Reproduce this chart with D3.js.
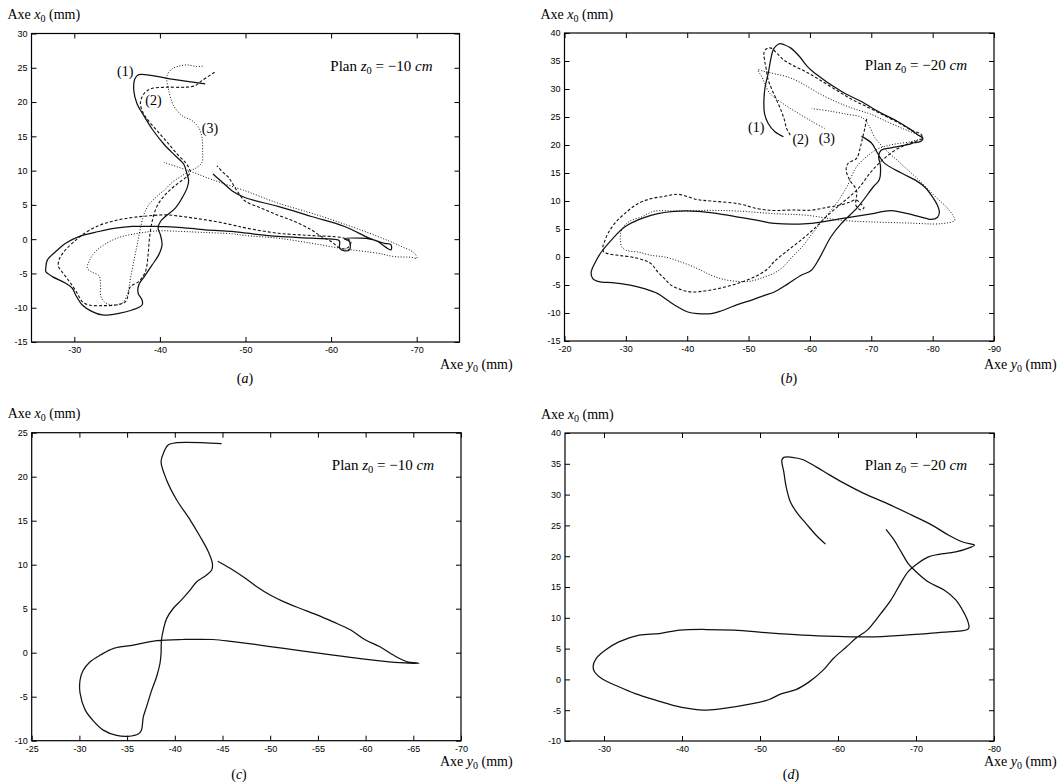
<!DOCTYPE html>
<html><head><meta charset="utf-8">
<script src="https://cdn.jsdelivr.net/npm/d3@7"></script>
<style>
body{margin:0;background:#fff;}
svg{display:block;}
.tick text{font-family:"Liberation Sans",Arial,sans-serif;font-size:9px;fill:#000;}
.serif{font-family:"Liberation Serif","Times New Roman",serif;fill:#000;}
</style></head><body>
<svg id="chart" width="1063" height="782"></svg>
<script>
// ---------- tick values ----------
const ticksAx = [-30,-40,-50,-60,-70];
const ticksAy = [-15,-10,-5,0,5,10,15,20,25,30];
const ticksBx = [-20,-30,-40,-50,-60,-70,-80,-90];
const ticksBy = [-15,-10,-5,0,5,10,15,20,25,30,35,40];
const ticksCx = [-25,-30,-35,-40,-45,-50,-55,-60,-65,-70];
const ticksCy = [-10,-5,0,5,10,15,20,25];
const ticksDx = [-30,-40,-50,-60,-70,-80];
const ticksDy = [-10,-5,0,5,10,15,20,25,30,35,40];

// ---------- data: [y0 (mm), x0 (mm)] ----------
// Panel (a), plane z0 = -10 cm
const a1 = [[-45.3,22.65],[-41.4,23.35],[-37.53,24.0],[-37.07,23.38],[-36.95,21.67],[-37.34,19.72],[-38.12,18.02],[-39.09,16.07],[-40.45,13.88],[-41.8,12.17],[-42.78,10.96],[-43.17,9.49],[-43.36,8.52],[-43.17,7.45],[-42.58,5.99],[-41.8,4.53],[-40.64,3.31],[-40.06,2.58],[-39.79,1.6],[-40.06,0.63],[-40.25,-0.83],[-39.86,-2.29],[-39.09,-3.76],[-38.31,-5.22],[-37.53,-6.68],[-37.46,-7.9],[-37.92,-8.87],[-37.92,-9.6],[-36.76,-10.33],[-35.2,-10.82],[-33.26,-11.06],[-32.1,-10.57],[-30.93,-9.6],[-30.16,-8.14],[-29.77,-7.17],[-28.99,-6.43],[-27.44,-5.46],[-26.67,-4.73],[-26.67,-4.24],[-26.86,-3.02],[-27.83,-1.81],[-28.99,-0.59],[-30.54,0.38],[-32.87,1.12],[-34.82,1.6],[-36.76,1.85],[-39.86,1.85],[-42.58,1.7],[-45.3,1.36],[-48.4,1.12],[-50.16,0.87],[-53.8,0.39],[-57.69,0.14],[-60.8,-0.1],[-61.0,-0.35],[-61.0,-1.32],[-61.57,-1.7],[-62.15,-1.56],[-62.15,-0.35],[-61.57,0.04],[-63.5,0.14],[-64.68,-0.02],[-66.23,-0.6],[-67.0,-0.83],[-67.0,-1.56],[-66.4,-1.2],[-65.46,-0.35],[-64.3,0.24],[-61.57,1.85],[-57.69,3.31],[-53.8,4.77],[-49.92,6.08],[-48.5,7.0],[-47.3,8.3],[-46.2,9.5]];
const a2 = [[-46.39,24.35],[-44.91,23.13],[-44.14,22.4],[-42.97,22.16],[-40.64,22.16],[-38.89,21.91],[-38.12,21.18],[-37.73,19.97],[-37.92,18.75],[-38.5,17.53],[-39.67,15.83],[-41.03,13.88],[-42.19,12.17],[-42.97,11.2],[-43.36,10.47],[-43.55,9.74],[-43.13,9.1],[-42.35,8.37],[-41.38,7.4],[-40.41,6.18],[-39.63,4.72],[-39.09,2.58],[-38.78,0.14],[-38.62,-2.29],[-38.31,-4.73],[-37.53,-6.19],[-36.56,-6.92],[-36.29,-8.14],[-35.98,-9.11],[-34.82,-9.6],[-33.26,-9.7],[-31.71,-9.6],[-30.93,-9.11],[-30.35,-7.9],[-29.57,-6.43],[-28.99,-5.46],[-28.4,-4.49],[-28.14,-4.0],[-28.21,-3.03],[-28.8,-1.81],[-29.77,-0.59],[-30.93,0.63],[-32.87,2.0],[-34.82,2.72],[-36.76,3.16],[-38.7,3.4],[-40.64,3.55],[-42.58,3.31],[-44.52,2.97],[-46.47,2.58],[-48.41,2.09],[-50.16,1.6],[-53.8,0.87],[-57.69,0.53],[-61.18,0.24],[-62.3,-0.3],[-62.0,-1.2],[-61.2,-1.4],[-60.02,-0.35],[-58.85,0.38],[-57.69,1.36],[-55.75,2.58],[-53.8,3.5],[-51.86,4.53],[-49.92,5.6],[-48.95,7.16],[-48.02,9.0],[-47.3,9.83],[-46.66,10.71]];
const a3 = [[-44.99,25.23],[-44.29,25.18],[-43.17,25.42],[-42.19,25.23],[-41.42,24.84],[-40.83,23.86],[-41.03,21.67],[-41.61,19.48],[-42.58,18.02],[-43.75,17.29],[-44.52,16.31],[-44.91,14.85],[-44.99,12.9],[-44.91,11.2],[-44.33,10.47],[-43.55,9.98],[-42.58,9.25],[-41.42,8.28],[-40.64,7.3],[-39.86,6.47],[-38.7,5.01],[-38.12,3.55],[-37.73,1.6],[-37.34,-0.83],[-36.95,-3.27],[-36.56,-5.7],[-36.37,-7.17],[-36.17,-8.14],[-35.59,-9.36],[-34.43,-9.6],[-33.46,-9.11],[-33.07,-8.14],[-33.07,-6.68],[-32.87,-5.31],[-32.1,-4.83],[-31.51,-4.24],[-31.71,-3.27],[-32.29,-2.05],[-33.46,-0.83],[-35.2,0.24],[-37.53,0.87],[-39.86,1.21],[-42.58,1.12],[-45.3,0.97],[-48.41,0.78],[-49.92,0.53],[-53.8,0.14],[-57.69,-0.59],[-61.57,-1.42],[-65.46,-2.05],[-67.4,-2.54],[-69.34,-2.64],[-70.04,-2.78],[-69.73,-2.05],[-67.79,-0.83],[-65.46,0.39],[-61.57,2.19],[-57.69,3.8],[-53.8,5.26],[-49.96,7.06],[-46.47,8.52],[-43.36,9.98],[-40.45,11.2]];

// Panel (b), plane z0 = -20 cm
const b1 = [[-55.69,21.47],[-54.3,22.36],[-53.2,23.85],[-52.6,25.6],[-52.5,28.0],[-52.7,30.4],[-53.2,32.8],[-53.6,35.2],[-54.0,36.96],[-54.5,37.7],[-55.1,38.1],[-55.8,37.9],[-56.9,37.3],[-58.3,35.8],[-59.6,34.0],[-60.7,32.9],[-65.1,29.6],[-68.3,27.8],[-71.6,25.7],[-74.3,24.2],[-76.5,22.7],[-77.6,21.8],[-78.4,21.25],[-78.1,20.65],[-77.0,20.4],[-75.9,20.05],[-73.2,19.5],[-71.6,19.05],[-71.2,18.0],[-71.5,16.2],[-71.3,13.8],[-70.3,12.5],[-67.8,8.9],[-65.1,5.95],[-63.4,3.57],[-61.5,-0.3],[-60.2,-2.4],[-58.5,-3.3],[-56.4,-4.8],[-54.2,-6.25],[-52.6,-6.85],[-50.4,-7.74],[-48.3,-8.45],[-45.5,-9.64],[-43.9,-10.1],[-41.7,-10.1],[-40.1,-9.82],[-38.5,-8.93],[-36.8,-7.74],[-35.2,-6.55],[-33.0,-5.65],[-30.9,-5.06],[-28.15,-4.64],[-25.4,-4.35],[-24.6,-3.87],[-24.35,-2.68],[-24.9,-1.19],[-26.0,0.89],[-27.6,2.98],[-29.8,5.36],[-32.5,6.85],[-35.2,7.74],[-37.9,8.15],[-41.7,8.15],[-45.0,7.74],[-48.3,7.14],[-51.5,6.55],[-54.2,6.0],[-59.6,5.95],[-65.1,6.84],[-70.0,7.7],[-73.2,8.3],[-77.0,7.45],[-79.1,6.84],[-79.75,6.7],[-80.8,7.1],[-81.1,8.0],[-80.8,9.2],[-80.0,10.7],[-78.7,12.5],[-77.5,13.5],[-74.9,15.0],[-72.1,16.8],[-71.0,18.6],[-70.0,20.4],[-68.4,21.55]];
const b2 = [[-56.8,21.76],[-56.2,22.96],[-55.85,24.45],[-55.4,25.9],[-54.7,27.7],[-53.85,29.8],[-53.2,31.6],[-52.9,33.4],[-52.6,35.2],[-52.5,36.4],[-52.7,36.96],[-53.15,37.3],[-53.7,37.3],[-54.6,36.4],[-55.7,35.2],[-57.1,34.3],[-59.3,33.1],[-61.5,31.7],[-64.3,29.8],[-67.1,28.0],[-69.9,26.5],[-72.6,25.0],[-74.9,23.7],[-76.5,22.65],[-78.1,21.94],[-78.3,21.2],[-77.0,20.6],[-75.5,20.0],[-73.5,18.8],[-71.5,17.0],[-69.8,15.0],[-68.1,12.5],[-66.7,11.0],[-65.1,9.52],[-62.9,7.44],[-60.7,5.06],[-58.5,2.98],[-56.4,1.19],[-54.2,-0.8],[-53.15,-2.08],[-51.5,-3.27],[-49.35,-4.29],[-47.2,-5.06],[-45.0,-5.65],[-42.8,-6.07],[-40.65,-6.25],[-39.0,-5.83],[-37.4,-5.06],[-36.3,-3.87],[-35.2,-2.68],[-34.1,-1.19],[-33.0,-0.6],[-30.9,0.0],[-28.7,0.3],[-27.07,0.6],[-26.4,0.89],[-26.25,1.79],[-26.5,2.68],[-27.07,4.17],[-28.15,5.95],[-29.8,7.74],[-31.96,9.52],[-34.1,10.42],[-36.3,10.83],[-38.5,11.2],[-41.7,10.24],[-43.9,10.0],[-48.3,9.52],[-51.5,8.63],[-54.2,8.3],[-57.0,8.4],[-60.0,8.35],[-63.0,8.9],[-65.0,9.3],[-66.5,9.8],[-67.5,10.2],[-68.3,9.5],[-68.8,8.8],[-68.3,8.4],[-67.5,9.2],[-67.6,11.9],[-66.5,13.7],[-65.9,15.5],[-66.2,16.7],[-67.6,17.6],[-68.1,19.1],[-68.5,20.9],[-69.0,23.25],[-69.3,24.9]];
const b3 = [[-62.4,22.96],[-60.4,24.15],[-58.2,25.6],[-56.0,27.1],[-54.2,28.5],[-53.4,29.3],[-52.6,31.1],[-52.1,32.3],[-51.5,33.4],[-52.35,33.2],[-54.3,32.7],[-56.5,32.1],[-58.7,31.0],[-61.5,29.2],[-64.3,27.7],[-67.1,26.5],[-69.9,25.5],[-72.6,24.15],[-75.4,22.8],[-77.6,21.8],[-78.2,21.3],[-76.5,20.6],[-74.0,20.2],[-71.5,19.5],[-69.9,18.5],[-67.6,16.1],[-66.0,12.5],[-64.3,9.55],[-62.1,6.6],[-60.4,4.2],[-58.7,1.8],[-57.1,0.0],[-55.5,-1.9],[-54.2,-2.86],[-52.6,-3.57],[-50.4,-4.29],[-48.3,-4.35],[-46.1,-4.05],[-43.9,-3.27],[-41.7,-2.08],[-39.0,-0.89],[-36.3,0.0],[-34.1,0.3],[-31.96,0.89],[-30.05,1.19],[-29.35,1.79],[-29.1,2.98],[-29.2,4.46],[-29.8,5.65],[-30.9,6.55],[-32.5,7.14],[-33.6,7.74],[-34.7,8.2],[-38.5,8.2],[-43.9,8.33],[-48.3,8.2],[-54.2,7.74],[-59.6,7.44],[-65.1,6.55],[-70.5,6.25],[-76.0,6.07],[-81.4,5.95],[-83.6,6.55],[-83.3,7.44],[-82.0,9.2],[-80.8,10.4],[-79.7,11.6],[-78.9,12.5],[-77.5,14.0],[-76.0,15.5],[-74.0,17.5],[-72.0,19.5],[-70.5,21.5],[-69.6,23.5],[-68.5,24.9],[-66.0,25.5],[-63.0,26.1],[-60.3,26.5]];

// Panel (c), plane z0 = -10 cm
const c1 = [[-44.9,23.75],[-40.2,23.86],[-39.3,23.6],[-38.8,22.65],[-38.56,21.7],[-39.15,19.6],[-40.2,17.35],[-41.6,15.1],[-42.65,13.2],[-43.5,11.5],[-43.94,10.15],[-43.87,9.4],[-43.3,8.8],[-42.3,8.07],[-41.6,7.1],[-40.7,6.0],[-39.85,5.05],[-39.15,3.9],[-38.8,2.6],[-38.6,1.44],[-38.56,-0.08],[-38.45,-1.2],[-38.1,-2.7],[-37.6,-4.2],[-37.05,-6.1],[-36.7,-7.3],[-36.5,-8.8],[-36.2,-9.2],[-35.1,-9.5],[-33.9,-9.4],[-32.5,-8.8],[-31.5,-7.8],[-30.6,-6.5],[-30.07,-4.6],[-30.07,-3.1],[-30.4,-2.0],[-31.1,-1.05],[-32.2,-0.27],[-33.6,0.5],[-35.66,0.87],[-38.1,1.36],[-40.9,1.5],[-44.0,1.5],[-46.1,1.25],[-49.6,0.76],[-53.1,0.23],[-56.6,-0.27],[-60.1,-0.76],[-63.6,-1.14],[-65.6,-1.2],[-64.3,-1.0],[-62.9,-0.27],[-61.5,0.68],[-59.9,1.5],[-58.4,2.6],[-56.6,3.5],[-54.9,4.3],[-53.1,5.05],[-51.4,5.8],[-50.0,6.55],[-48.6,7.5],[-47.2,8.6],[-45.8,9.6],[-44.5,10.4]];

// Panel (d), plane z0 = -20 cm
const d1 = [[-58.4,21.96],[-57.2,23.4],[-55.9,25.3],[-54.8,26.95],[-53.9,28.8],[-53.35,31.3],[-53.05,33.7],[-52.8,35.6],[-53.05,36.05],[-54.1,36.05],[-55.45,35.7],[-57.2,34.5],[-58.9,33.2],[-60.7,31.9],[-63.3,30.2],[-66.4,28.5],[-69.4,26.7],[-72.05,25.05],[-74.2,23.4],[-76.0,22.3],[-77.5,21.8],[-76.9,21.4],[-75.1,20.7],[-72.9,20.3],[-71.6,19.9],[-70.3,18.9],[-69.0,17.5],[-67.9,15.3],[-66.8,12.9],[-65.5,10.7],[-63.75,8.0],[-62.4,6.8],[-61.1,5.3],[-59.4,3.4],[-58.1,1.5],[-56.3,-0.4],[-54.6,-1.66],[-52.8,-2.3],[-51.1,-3.3],[-48.5,-4.05],[-45.8,-4.64],[-43.2,-5.0],[-41.0,-4.75],[-38.85,-4.2],[-36.7,-3.4],[-34.0,-2.3],[-31.9,-1.2],[-29.7,0.13],[-28.8,1.2],[-28.6,2.03],[-29.0,3.4],[-30.1,4.7],[-31.9,6.1],[-34.5,7.2],[-37.1,7.45],[-39.7,8.0],[-43.2,8.1],[-46.7,8.0],[-51.1,7.55],[-55.45,7.2],[-59.8,7.0],[-64.2,6.9],[-68.55,7.2],[-72.9,7.6],[-76.6,8.1],[-76.8,8.5],[-76.6,9.6],[-76.2,10.7],[-75.1,12.9],[-73.6,14.5],[-71.6,15.8],[-69.9,17.6],[-69.0,18.8],[-68.1,20.7],[-67.2,22.6],[-66.15,24.35]];

// curve labels (1),(2),(3): [y0, x0, text]
const labelsA = [[-35.94,24.2,"(1)"],[-39.24,20.06,"(2)"],[-45.84,16.0,"(3)"]];
const labelsB = [[-51.24,22.96,"(1)"],[-58.47,20.75,"(2)"],[-62.75,21.0,"(3)"]];

// ---------- drawing ----------
const svg = d3.select('#chart');
const STYLE = {
  solid: {dash: null, w: 1.25},
  dashed: {dash: "3,2", w: 1.1},
  dotted: {dash: "1,1.8", w: 1.0}
};

const panels = [
  {name:"a", left:31.5, right:459.5, top:33.5, bottom:342, xd:[-25,-75], yd:[-15,30], xt:ticksAx, yt:ticksAy,
   series:[[a1,"solid"],[a2,"dashed"],[a3,"dotted"]], labels:labelsA, plan:"10", yTitleX:440, yTitleY:369, capX:245, capY:383},
  {name:"b", left:564.5, right:994, top:33, bottom:341, xd:[-20,-90], yd:[-15,40], xt:ticksBx, yt:ticksBy,
   series:[[b1,"solid"],[b2,"dashed"],[b3,"dotted"]], labels:labelsB, plan:"20", yTitleX:984, yTitleY:369, capX:789, capY:383},
  {name:"c", left:31.7, right:461, top:432.7, bottom:740.7, xd:[-25,-70], yd:[-10,25], xt:ticksCx, yt:ticksCy,
   series:[[c1,"solid"]], labels:[], plan:"10", yTitleX:440, yTitleY:766, capX:239, capY:779},
  {name:"d", left:565, right:994, top:433, bottom:741, xd:[-25,-80], yd:[-10,40], xt:ticksDx, yt:ticksDy,
   series:[[d1,"solid"]], labels:[], plan:"20", yTitleX:984, yTitleY:766, capX:791, capY:779}
];

function axisTitle(g, x, y, v) {
  const t = g.append('text').attr('class','serif').attr('x',x).attr('y',y).attr('font-size',14);
  t.append('tspan').text('Axe ');
  t.append('tspan').attr('font-style','italic').text(v);
  t.append('tspan').attr('font-size',10).attr('dy',3).text('0');
  t.append('tspan').attr('dy',-3).text(' (mm)');
}

panels.forEach(p => {
  const x = d3.scaleLinear().domain(p.xd).range([p.left, p.right]);
  const y = d3.scaleLinear().domain(p.yd).range([p.bottom, p.top]);
  const g = svg.append('g');

  const fmt = d => String(d);
  const addAxis = (gen, tr) => {
    const s = g.append('g').attr('transform', tr).call(gen);
    s.select('.domain').remove();
    s.selectAll('.tick line').attr('stroke','#000').attr('stroke-width',1);
    return s;
  };
  addAxis(d3.axisBottom(x).tickValues(p.xt).tickSize(-5).tickPadding(5).tickFormat(fmt), `translate(0,${p.bottom})`);
  addAxis(d3.axisTop(x).tickValues(p.xt).tickSize(-5).tickFormat(''), `translate(0,${p.top})`);
  addAxis(d3.axisLeft(y).tickValues(p.yt).tickSize(-5).tickPadding(4).tickFormat(fmt), `translate(${p.left},0)`);
  addAxis(d3.axisRight(y).tickValues(p.yt).tickSize(-5).tickFormat(''), `translate(${p.right},0)`);

  g.append('rect').attr('x',p.left).attr('y',p.top)
    .attr('width',p.right-p.left).attr('height',p.bottom-p.top)
    .attr('fill','none').attr('stroke','#000').attr('stroke-width',1.2);

  const line = d3.line().x(d => x(d[0])).y(d => y(d[1])).curve(d3.curveCatmullRom.alpha(0.5));
  p.series.forEach(([data, kind]) => {
    g.append('path').attr('d', line(data)).attr('fill','none')
      .attr('stroke','#111').attr('stroke-width',STYLE[kind].w)
      .attr('stroke-dasharray',STYLE[kind].dash)
      .attr('stroke-linejoin','round');
  });

  p.labels.forEach(([ly, lx, txt]) => {
    g.append('text').attr('class','serif').attr('font-size',14)
      .attr('x', x(ly)).attr('y', y(lx)).attr('text-anchor','middle')
      .attr('dominant-baseline','middle').text(txt);
  });

  // plane label
  const pl = g.append('text').attr('class','serif').attr('font-size',15)
    .attr('x', p.right - 27).attr('y', p.top + 37).attr('text-anchor','end');
  pl.append('tspan').text('Plan ');
  pl.append('tspan').attr('font-style','italic').text('z');
  pl.append('tspan').attr('font-size',10.5).attr('dy',3).text('0');
  pl.append('tspan').attr('dy',-3).text(' = \u2212' + p.plan + ' ');
  pl.append('tspan').attr('font-style','italic').text('cm');

  axisTitle(g, p.left - 24, p.top - 14.5, 'x');
  axisTitle(g, p.yTitleX, p.yTitleY, 'y');

  const cap = g.append('text').attr('class','serif').attr('font-size',14)
    .attr('x', p.capX).attr('y', p.capY).attr('text-anchor','middle');
  cap.append('tspan').text('(');
  cap.append('tspan').attr('font-style','italic').text(p.name);
  cap.append('tspan').text(')');
});
</script>
</body></html>
